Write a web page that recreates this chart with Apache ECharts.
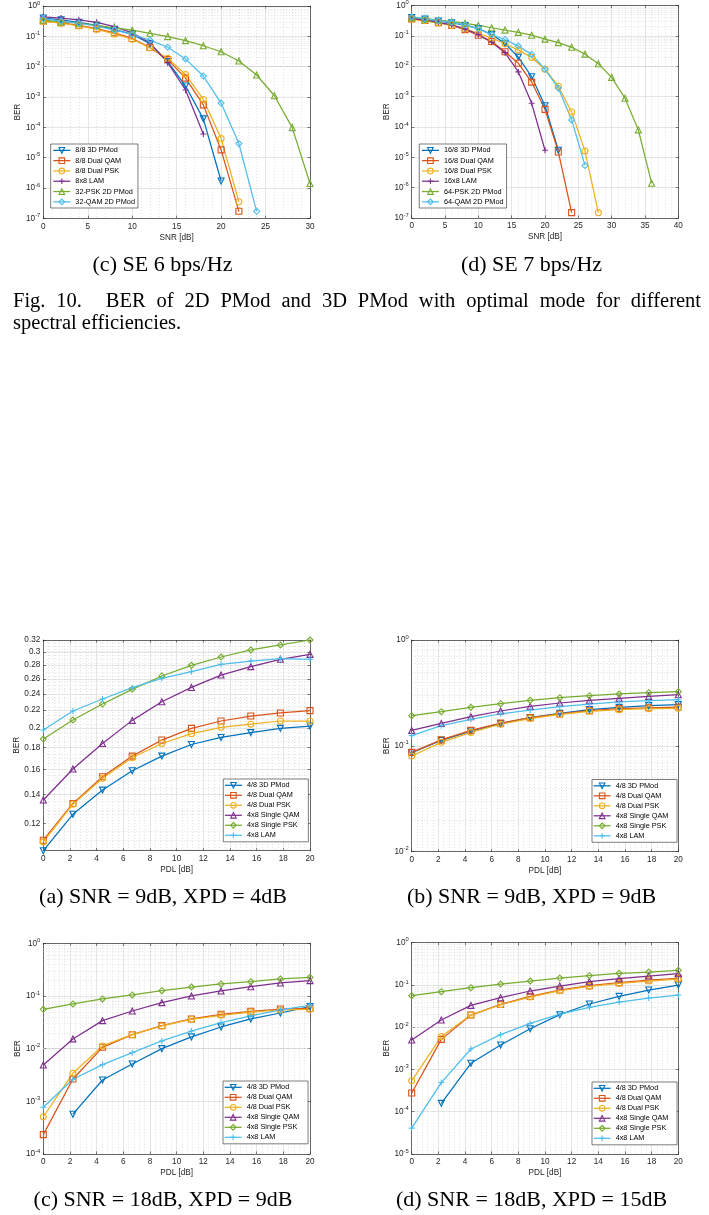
<!DOCTYPE html>
<html><head><meta charset="utf-8">
<script src="https://cdn.jsdelivr.net/npm/echarts@6.0.0/dist/echarts.min.js"></script>
<style>html,body{margin:0;padding:0;background:#fff}#c{width:709px;height:1215px}</style>
</head><body><div id="c"></div>
<script>
// ================= DATA =================
const snrSE6 = [0,2,4,6,8,10,12,14,16,18,20,22,24,26,28,30];
const snrSE7 = [0,2,4,6,8,10,12,14,16,18,20,22,24,26,28,30,32,34,36,38,40];
const pdl = [0,2.22,4.44,6.67,8.89,11.11,13.33,15.56,17.78,20];

const namesSE6 = ['8/8 3D PMod','8/8 Dual QAM','8/8 Dual PSK','8x8 LAM','32-PSK 2D PMod','32-QAM 2D PMod'];
const namesSE7 = ['16/8 3D PMod','16/8 Dual QAM','16/8 Dual PSK','16x8 LAM','64-PSK 2D PMod','64-QAM 2D PMod'];
const namesPDL = ['4/8 3D PMod','4/8 Dual QAM','4/8 Dual PSK','4x8 Single QAM','4x8 Single PSK','4x8 LAM'];

// (c) SE 6 bps/Hz  (BER vs SNR)
const se6_3d    = [0.40,0.35,0.29,0.23,0.17,0.117,0.057,0.0146,0.0023,1.9e-4,1.7e-6];
const se6_qam   = [0.32,0.28,0.23,0.18,0.13,0.085,0.043,0.017,0.0042,5.5e-4,1.8e-5,1.7e-7];
const se6_psk   = [0.31,0.27,0.22,0.17,0.12,0.08,0.042,0.019,0.0055,8.3e-4,4.3e-5,3.5e-7];
const se6_lam   = [0.44,0.40,0.35,0.29,0.21,0.13,0.06,0.0135,0.0017,6e-5];
const se6_psk2d = [0.34,0.30,0.27,0.23,0.19,0.16,0.126,0.098,0.072,0.049,0.031,0.0154,0.0053,0.0011,9.8e-5,1.4e-6];
const se6_qam2d = [0.38,0.32,0.27,0.215,0.16,0.115,0.075,0.0435,0.018,0.0049,6.3e-4,2.9e-5,1.7e-7];

// (d) SE 7 bps/Hz
const se7_3d    = [0.40,0.36,0.31,0.27,0.22,0.175,0.11,0.056,0.02,0.0045,5e-4,1.7e-5];
const se7_qam   = [0.36,0.32,0.27,0.22,0.16,0.105,0.065,0.03,0.0125,0.003,3.8e-4,1.5e-5,1.5e-7];
const se7_psk   = [0.35,0.32,0.27,0.22,0.17,0.12,0.085,0.055,0.034,0.0195,0.008,0.0022,3.1e-4,1.6e-5,1.5e-7];
const se7_lam   = [0.37,0.33,0.28,0.23,0.17,0.11,0.062,0.028,0.0065,6e-4,1.7e-5];
const se7_psk2d = [0.40,0.37,0.33,0.30,0.26,0.22,0.185,0.155,0.13,0.105,0.078,0.06,0.042,0.025,0.012,0.0043,8.8e-4,8e-5,1.4e-6];
const se7_qam2d = [0.42,0.37,0.32,0.28,0.23,0.17,0.11,0.076,0.046,0.0245,0.0079,0.0019,1.7e-4,5.4e-6];

// (a) SNR = 9dB, XPD = 4dB  (BER vs PDL)
const a_3d   = [0.1037,0.126,0.1434,0.159,0.172,0.183,0.19,0.195,0.1995,0.202];
const a_qam  = [0.1097,0.1335,0.154,0.172,0.1874,0.1995,0.2075,0.2131,0.2166,0.2193];
const a_psk  = [0.1087,0.133,0.1527,0.1705,0.184,0.1939,0.2006,0.204,0.2075,0.2075];
const a_sqam = [0.136,0.1605,0.184,0.2082,0.23,0.2483,0.2653,0.2775,0.2886,0.2964];
const a_spsk = [0.1884,0.2086,0.2272,0.2458,0.264,0.2794,0.2922,0.3034,0.3116,0.32];
const a_lam  = [0.1977,0.2189,0.2334,0.248,0.2607,0.2701,0.281,0.286,0.2896,0.2886];
const a_yTicks = [0.12,0.14,0.16,0.18,0.2,0.22,0.24,0.26,0.28,0.3,0.32];

// (b) SNR = 9dB, XPD = 9dB
const b_3d   = [0.0862,0.1127,0.138,0.162,0.1846,0.2028,0.2197,0.231,0.2397,0.245];
const b_qam  = [0.0868,0.114,0.14,0.164,0.1846,0.2,0.2149,0.2245,0.229,0.2328];
const b_psk  = [0.0802,0.108,0.134,0.16,0.181,0.198,0.212,0.2197,0.2245,0.2261];
const b_sqam = [0.14,0.163,0.1887,0.2134,0.236,0.254,0.269,0.281,0.2935,0.3044];
const b_spsk = [0.1928,0.2104,0.231,0.2502,0.269,0.2852,0.298,0.309,0.318,0.325];
const b_lam  = [0.1248,0.155,0.178,0.201,0.218,0.2345,0.2485,0.2597,0.2673,0.273];

// (c) SNR = 18dB, XPD = 9dB
const c_3d   = [null,5.7e-4,0.00254,0.00512,0.01,0.0167,0.0258,0.0366,0.0475,0.0627];
const c_qam  = [2.33e-4,0.00265,0.0106,0.0184,0.0274,0.0366,0.0449,0.0512,0.0565,0.058];
const c_psk  = [5.1e-4,0.0034,0.01125,0.0184,0.027,0.036,0.043,0.0495,0.0542,0.0558];
const c_sqam = [0.0049,0.0153,0.034,0.0519,0.0747,0.1,0.1245,0.15,0.1766,0.1955];
const c_spsk = [0.0558,0.0705,0.0877,0.1045,0.126,0.148,0.169,0.187,0.2104,0.226];
const c_lam  = [7.7e-4,0.00262,0.00497,0.0084,0.014,0.0216,0.0312,0.0417,0.0542,0.0665];

// (d) SNR = 18dB, XPD = 15dB
const d_3d   = [null,1.58e-4,0.0014,0.0038,0.0092,0.0198,0.0354,0.0537,0.0759,0.0995];
const d_qam  = [2.77e-4,0.00516,0.0194,0.0348,0.0537,0.0759,0.096,0.113,0.131,0.1433];
const d_psk  = [5.4e-4,0.006,0.0194,0.034,0.0518,0.0732,0.0927,0.109,0.124,0.138];
const d_sqam = [0.005,0.0148,0.0329,0.05,0.0719,0.0944,0.1194,0.1406,0.1626,0.1848];
const d_spsk = [0.0557,0.0693,0.0862,0.1052,0.124,0.146,0.1657,0.188,0.2023,0.2215];
const d_lam  = [4.1e-5,4.9e-4,0.00305,0.00666,0.0123,0.0205,0.0295,0.0394,0.049,0.0578];

// ================= STYLE =================
const FF = '"Liberation Sans", Arial, sans-serif';
const SERIF = '"Liberation Serif", "Times New Roman", serif';
const AXC = '#262626';
const GRIDC = '#dedede';
const MINC = '#cccccc';
const COLORS = ['#0072BD','#D95319','#EDB120','#7E2F8E','#77AC30','#4DBEEE'];
const SYM_DOWN = 'path://M0,0L10,0L5,8.66Z';
const SYM_PLUS = 'path://M5,0L5,10M0,5L10,5';
const SYMS_SE  = [SYM_DOWN,'rect','circle',SYM_PLUS,'triangle','diamond'];
const SYMS_PDL = [SYM_DOWN,'rect','circle','triangle','diamond',SYM_PLUS];
const LW = 1.25;

const plots = [
  {grid:{left:43.3,top:6,width:266.7,height:212.3}, x:snrSE6, xMax:30, xInt:5, xName:'SNR [dB]', yMin:1e-7, yMax:1, yLog:true,
   names:namesSE6, vals:[se6_3d,se6_qam,se6_psk,se6_lam,se6_psk2d,se6_qam2d], syms:SYMS_SE, yGap:21.5,
   legend:{left:50.7, top:144, padding:[1.2,3,1,2], lh:10.3}},
  {grid:{left:411.7,top:5.5,width:266.6,height:212.5}, x:snrSE7, xMax:40, xInt:5, xName:'SNR [dB]', yMin:1e-7, yMax:1, yLog:true,
   names:namesSE7, vals:[se7_3d,se7_qam,se7_psk,se7_lam,se7_psk2d,se7_qam2d], syms:SYMS_SE, yGap:21,
   legend:{left:419.3, top:144, padding:[1.2,3,1,2], lh:10.3}},
  {grid:{left:43.3,top:640,width:266.7,height:210.7}, x:pdl, xMax:20, xInt:2, xName:'PDL [dB]', yMin:0.1037, yMax:0.32, yLog:false, yTicks:a_yTicks,
   names:namesPDL, vals:[a_3d,a_qam,a_psk,a_sqam,a_spsk,a_lam], syms:SYMS_PDL, yGap:21.5,
   legend:{left:223.3, top:779, padding:[1.3,8.7,1.5,1], lh:10}},
  {grid:{left:411.7,top:640,width:266.6,height:211.7}, x:pdl, xMax:20, xInt:2, xName:'PDL [dB]', yMin:0.01, yMax:1, yLog:true,
   names:namesPDL, vals:[b_3d,b_qam,b_psk,b_sqam,b_spsk,b_lam], syms:SYMS_PDL, yGap:20.5,
   legend:{left:592, top:779.5, padding:[1.3,8.7,1.5,1], lh:10}},
  {grid:{left:43.3,top:943.3,width:266.7,height:210.7}, x:pdl, xMax:20, xInt:2, xName:'PDL [dB]', yMin:1e-4, yMax:1, yLog:true,
   names:namesPDL, vals:[c_3d,c_qam,c_psk,c_sqam,c_spsk,c_lam], syms:SYMS_PDL, yGap:21.5,
   legend:{left:223, top:1081, padding:[1.3,8.7,1.5,1], lh:10}},
  {grid:{left:411.7,top:942.7,width:266.6,height:211.3}, x:pdl, xMax:20, xInt:2, xName:'PDL [dB]', yMin:1e-5, yMax:1, yLog:true,
   names:namesPDL, vals:[d_3d,d_qam,d_psk,d_sqam,d_spsk,d_lam], syms:SYMS_PDL, yGap:20.5,
   legend:{left:592, top:1082, padding:[1.3,8.7,1.5,1], lh:10}}
];

function logMinor(min, max){
  const out=[];
  for(let e=Math.floor(Math.log10(min)); e<Math.ceil(Math.log10(max)); e++)
    for(let k=2;k<=9;k++){ const v=k*Math.pow(10,e); if(v>min*1.0001 && v<max*0.9999) out.push(v); }
  return out;
}
function linLogMinor(min, max){ // 0.005 steps for (a)
  const out=[];
  for(let m=Math.ceil(min/0.005); m*0.005<max-1e-9; m++){ if(m%4!==0) out.push(Math.log10(m*0.005)); }
  return out;
}

const grids=[], xAxesB=[], xAxesT=[], yAxesL=[], yAxesR=[], legends=[], series=[];
const tickStyle = {color:AXC, width:0.6};

plots.forEach((p,i)=>{
  grids.push(Object.assign({show:false, containLabel:false, outerBoundsMode:'none'}, p.grid));
  const xBase = {type:'value', gridIndex:i, min:0, max:p.xMax, interval:p.xInt, minorTick:{show:false, splitNumber:5},
    axisLine:{show:true, onZero:false, lineStyle:{color:AXC, width:0.7}},
    axisTick:{show:true, inside:true, length:2.6, lineStyle:tickStyle}};
  xAxesB.push(Object.assign({}, xBase, {position:'bottom', name:p.xName, nameLocation:'middle', nameGap:15,
    nameTextStyle:{fontFamily:FF, fontSize:8.2, color:AXC},
    axisLabel:{show:true, margin:4, fontFamily:FF, fontSize:8.2, color:AXC},
    splitLine:{show:true, showMinLine:false, showMaxLine:false, lineStyle:{color:GRIDC, width:0.8}},
    minorSplitLine:{show:true, lineStyle:{color:MINC, width:0.6, type:[1,2]}}}));
  xAxesT.push(Object.assign({}, xBase, {position:'top', axisLabel:{show:false}, splitLine:{show:false}, minorSplitLine:{show:false}}));

  let yBase;
  if(p.yLog){
    yBase = {type:'log', logBase:10, gridIndex:i, min:p.yMin, max:p.yMax};
  } else {
    const cv = p.yTicks.map(v=>Math.log10(v));
    yBase = {type:'value', gridIndex:i, min:Math.log10(p.yMin), max:Math.log10(p.yMax), _cv:cv};
  }
  const mkY = (left)=>{
    const o = Object.assign({}, yBase, {position:left?'left':'right',
      axisLine:{show:true, onZero:false, lineStyle:{color:AXC, width:0.7}},
      axisTick:{show:true, inside:true, length:2.6, lineStyle:tickStyle},
      minorTick:{show:false}});
    delete o._cv;
    if(!p.yLog){ o.axisTick.customValues = yBase._cv; }
    if(left){
      o.name='BER'; o.nameLocation='middle'; o.nameGap=p.yGap;
      o.nameTextStyle={fontFamily:FF, fontSize:8.2, color:AXC};
      o.splitLine={show:true, showMinLine:false, showMaxLine:false, lineStyle:{color:GRIDC, width:0.8}};
      if(p.yLog){
        o.axisLabel={show:true, margin:3, formatter:(v)=>'{b|10}{s|'+Math.round(Math.log10(v))+'}',
          rich:{b:{fontFamily:FF, fontSize:8.2, color:AXC, lineHeight:12}, s:{fontFamily:FF, fontSize:5.8, color:AXC, verticalAlign:'top', lineHeight:7}}};
      } else {
        o.axisLabel={show:true, margin:3, fontFamily:FF, fontSize:8.2, color:AXC, customValues:yBase._cv,
          formatter:(v)=>String(+Math.pow(10,v).toFixed(2))};
      }
    } else {
      o.axisLabel={show:false}; o.splitLine={show:false};
    }
    return o;
  };
  yAxesL.push(mkY(true));
  yAxesR.push(mkY(false));

  const L = p.legend;
  legends.push({orient:'vertical', left:L.left, top:L.top, padding:L.padding, itemWidth:17, itemHeight:7, itemGap:0,
    backgroundColor:'#fff', borderColor:AXC, borderWidth:0.6, borderRadius:0, selectedMode:false, z:10,
    textStyle:{fontFamily:FF, fontSize:7.3, color:'#000', lineHeight:L.lh},
    itemStyle:{borderWidth:1}, lineStyle:{width:LW},
    data:p.names.map((n,k)=>({name:n, itemStyle:{color:'rgba(0,0,0,0)', borderColor:COLORS[k], borderWidth:1.1}, lineStyle:{color:COLORS[k], width:LW}}))});

  const minor = p.yLog ? logMinor(p.yMin,p.yMax) : linLogMinor(p.yMin,p.yMax);
  p.vals.forEach((vals,k)=>{
    const data=[];
    vals.forEach((v,j)=>{ if(v!=null) data.push([p.x[j], p.yLog ? v : Math.log10(v)]); });
    const s = {type:'line', name:p.names[k], xAxisIndex:i, yAxisIndex:i, data,
      symbol:p.syms[k], symbolSize:6, showSymbol:true, showAllSymbol:true, clip:false, smooth:false,
      lineStyle:{color:COLORS[k], width:LW},
      itemStyle:{color:'rgba(0,0,0,0)', borderColor:COLORS[k], borderWidth:1.1},
      emphasis:{disabled:true}, animation:false, z:2};
    if(k===0){
      s.markLine = {silent:true, symbol:['none','none'], animation:false, z:1, label:{show:false}, emphasis:{disabled:true},
        lineStyle:{color:MINC, width:0.6, type:[1,2]}, data:minor.map(v=>({yAxis:v}))};
    }
    series.push(s);
  });
});

// ================= CAPTIONS =================
const CAP_FONT = '22px ' + SERIF;
const FIG_FONT = '20.5px ' + SERIF;
function capText(text, x, y, font, align){
  return {type:'text', x, y, silent:true, style:{text, font, fill:'#000', textAlign:align||'center', align:align||'center', textVerticalAlign:'middle', verticalAlign:'middle'}};
}
const graphics = [
  capText('(c) SE 6 bps/Hz', 162.5, 265, CAP_FONT),
  capText('(d) SE 7 bps/Hz', 531.5, 265, CAP_FONT),
  capText('(a) SNR = 9dB, XPD = 4dB', 163, 897, CAP_FONT),
  capText('(b) SNR = 9dB, XPD = 9dB', 531.5, 897, CAP_FONT),
  capText('(c) SNR = 18dB, XPD = 9dB', 163, 1200, CAP_FONT),
  capText('(d) SNR = 18dB, XPD = 15dB', 531.5, 1200, CAP_FONT)
];
(function(){
  const words = ['Fig.','10.','BER','of','2D','PMod','and','3D','PMod','with','optimal','mode','for','different'];
  const weights = [1,2.2,1,1,1,1,1,1,1,1,1,1,1,0];
  const ctx = document.createElement('canvas').getContext('2d');
  ctx.font = FIG_FONT;
  const w = words.map(t=>ctx.measureText(t).width);
  const total = w.reduce((a,b)=>a+b,0), wsum = weights.reduce((a,b)=>a+b,0);
  const x0 = 13, x1 = 701;
  const unit = (x1-x0-total)/wsum;
  let x = x0;
  words.forEach((t,k)=>{ graphics.push(capText(t, x, 302, FIG_FONT, 'left')); x += w[k] + weights[k]*unit; });
  graphics.push(capText('spectral efficiencies.', 13, 324, FIG_FONT, 'left'));
})();

const chart = echarts.init(document.getElementById('c'), null, {renderer:'canvas'});
chart.setOption({
  animation:false, backgroundColor:'#fff',
  grid:grids,
  xAxis:xAxesB.concat(xAxesT),
  yAxis:yAxesL.concat(yAxesR),
  legend:legends,
  series:series,
  graphic:graphics
});
</script>
</body></html>
